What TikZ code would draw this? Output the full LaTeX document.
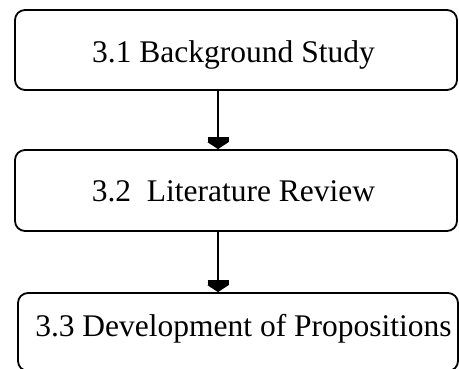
\documentclass[tikz,border=0pt]{standalone}
\usepackage{fontspec}
\setmainfont{Liberation Serif}
\usetikzlibrary{arrows.meta}
\begin{document}
\begin{tikzpicture}[x=1pt,y=-1pt,
  stepbox/.style={draw, line width=1.8pt, rounded corners=10pt, inner sep=0pt,
    font=\fontsize{31.5}{36}\selectfont},
  flow/.style={line width=2pt,
    -{Rectangle[width=21pt,length=5pt,sep=0pt]Triangle[width=21pt,length=7pt]}}]
\useasboundingbox (0,0) rectangle (459,369);
\clip (0,0) rectangle (459,369);
% the three stages of the methodology
\node[stepbox, minimum width=442pt, minimum height=80pt, text height=24.6pt, text depth=0pt]
  (b1) at (236,50) {\hspace*{-5pt}3.1 Background Study};
\node[stepbox, minimum width=442pt, minimum height=81pt, text height=22.4pt, text depth=0pt]
  (b2) at (236,190.5) {\hspace*{-5pt}3.2\ \ Literature Review};
\node[stepbox, minimum width=440pt, minimum height=78pt, text height=22pt, text depth=12.6pt]
  (b3) at (238,332) {\hspace*{11pt}3.3 Development of Propositions};
% flow between the stages
\draw[flow] ([xshift=-18pt]b1.south) -- ([xshift=-18pt]b2.north);
\draw[flow] ([xshift=-18pt]b2.south) -- ([xshift=-20pt]b3.north);
\end{tikzpicture}
\end{document}
